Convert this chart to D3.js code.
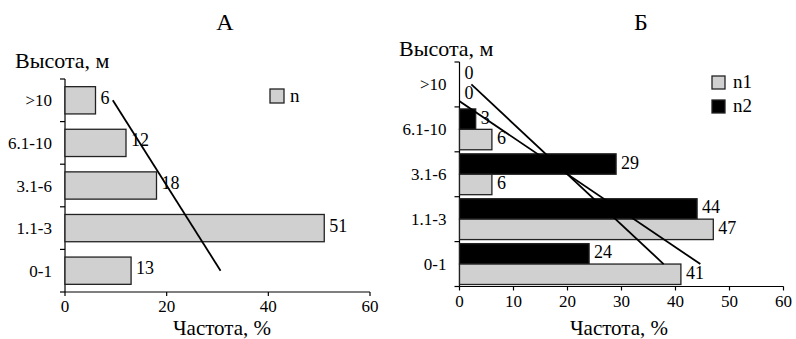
<!DOCTYPE html>
<html><head><meta charset="utf-8">
<script src="https://cdn.jsdelivr.net/npm/d3@7/dist/d3.min.js"></script>
<style>
body{margin:0;background:#fff;}
svg{display:block;}
</style></head>
<body><svg id="c" width="796" height="339"></svg>
<script>
// Data
const categories = [">10", "6.1-10", "3.1-6", "1.1-3", "0-1"]; // top to bottom
const valuesA_n = [6, 12, 18, 51, 13];
const valuesB_n1 = [0, 6, 6, 47, 41];
const valuesB_n2 = [0, 3, 29, 44, 24];
const xTicksA = [0, 20, 40, 60];
const xTicksB = [0, 10, 20, 30, 40, 50, 60];
const titleA = "А", titleB = "Б";
const yTitle = "Высота, м", xTitle = "Частота, %";

const svg = d3.select("#c");
const GRAY = "#d0d0d0", STROKE = "#222";
const FONT = "Liberation Serif";

function txt(g){ return g.append("text").attr("font-family",FONT).attr("fill","#000"); }

// linear regression over category index (1 = bottom category)
function trend(vals){
  const n = vals.length;
  const pts = vals.map((v,i)=>({x:n-i, y:v}));
  const mx = d3.mean(pts,d=>d.x), my = d3.mean(pts,d=>d.y);
  const b = d3.sum(pts,d=>(d.x-mx)*(d.y-my))/d3.sum(pts,d=>(d.x-mx)*(d.x-mx));
  const a = my - b*mx;
  return pts.map(p=>({cat: categories[n-p.x], v: a + b*p.x}));
}

function drawAxes(g, x, y, ticks, top, bottom, left, right){
  g.append("line").attr("x1",left).attr("x2",right).attr("y1",bottom).attr("y2",bottom).attr("stroke","#000").attr("stroke-width",1.2);
  ticks.forEach(t=>{
    g.append("line").attr("x1",x(t)).attr("x2",x(t)).attr("y1",bottom).attr("y2",bottom+4).attr("stroke","#000").attr("stroke-width",1.2);
    txt(g).attr("x",x(t)).attr("y",bottom+20).attr("text-anchor","middle").attr("font-size",17).text(t);
  });
  g.append("line").attr("x1",left).attr("x2",left).attr("y1",top).attr("y2",bottom).attr("stroke","#000").attr("stroke-width",1.2);
  const step = y.step();
  const bounds = categories.map(c=>y(c) - step*y.paddingInner()/2).concat([bottom]);
  bounds.forEach(b=>{
    g.append("line").attr("x1",left-5).attr("x2",left).attr("y1",b).attr("y2",b).attr("stroke","#000").attr("stroke-width",1.2);
  });
  categories.forEach(c=>{
    txt(g).attr("x",left-13).attr("y",y(c)+y.bandwidth()/2+6).attr("text-anchor","end").attr("font-size",17).text(c);
  });
}

// ---------- Chart A ----------
{
  const left=65, right=370, top=79, bottom=292;
  const x = d3.scaleLinear().domain([0,60]).range([left,right]);
  const y = d3.scaleBand().domain(categories).range([top,bottom]).paddingInner(0.36).paddingOuter(0.18);
  const g = svg.append("g");
  drawAxes(g,x,y,xTicksA,top,bottom,left,right);
  g.selectAll("rect.bar").data(valuesA_n).enter().append("rect")
    .attr("x",x(0)).attr("y",(d,i)=>y(categories[i]))
    .attr("width",d=>x(d)-x(0)).attr("height",y.bandwidth())
    .attr("fill",GRAY).attr("stroke",STROKE).attr("stroke-width",1.3);
  valuesA_n.forEach((d,i)=>{
    txt(g).attr("x",x(d)+5).attr("y",y(categories[i])+y.bandwidth()/2+3.5).attr("font-size",18).text(d);
  });
  const tr = trend(valuesA_n);
  const line = d3.line().x(d=>x(d.v)).y(d=>y(d.cat)+y.bandwidth()/2);
  g.append("path").attr("d",line([tr[0],tr[tr.length-1]])).attr("stroke","#000").attr("stroke-width",1.8).attr("fill","none");
  g.append("rect").attr("x",270).attr("y",89).attr("width",14).attr("height",14).attr("fill",GRAY).attr("stroke",STROKE).attr("stroke-width",1.3);
  txt(g).attr("x",290).attr("y",102).attr("font-size",19).text("n");
  txt(g).attr("x",225).attr("y",30).attr("text-anchor","middle").attr("font-size",24).text(titleA);
  txt(g).attr("x",15).attr("y",68).attr("font-size",22).text(yTitle);
  txt(g).attr("x",222).attr("y",335).attr("text-anchor","middle").attr("font-size",21).text(xTitle);
}

// ---------- Chart B ----------
{
  const left=459.5, right=783.5, top=62, bottom=286.5;
  const x = d3.scaleLinear().domain([0,60]).range([left,right]);
  const y = d3.scaleBand().domain(categories).range([top,bottom]).paddingInner(0.09).paddingOuter(0.045);
  const series = ["n2","n1"];
  const ys = d3.scaleBand().domain(series).range([0,y.bandwidth()]);
  const g = svg.append("g");
  drawAxes(g,x,y,xTicksB,top,bottom,left,right);
  const data = categories.map((c,i)=>({c, n1: valuesB_n1[i], n2: valuesB_n2[i]}));
  const colors = {n1: GRAY, n2: "#000"};
  series.forEach(s=>{
    g.selectAll("rect.b"+s).data(data).enter().append("rect")
      .attr("x",x(0)).attr("y",d=>y(d.c)+ys(s))
      .attr("width",d=>x(d[s])-x(0)).attr("height",ys.bandwidth())
      .attr("fill",colors[s]).attr("stroke",d=>d[s]>0?STROKE:"none").attr("stroke-width",1.3);
    data.forEach(d=>{
      txt(g).attr("x",x(d[s])+5).attr("y",y(d.c)+ys(s)+ys.bandwidth()/2+4.5).attr("font-size",18).text(d[s]);
    });
  });
  svg.append("clipPath").attr("id","clipB").append("rect").attr("x",left).attr("y",top).attr("width",right-left).attr("height",bottom-top);
  const line = d3.line().x(d=>x(d.v)).y(d=>y(d.cat)+y.bandwidth()/2);
  [valuesB_n1, valuesB_n2].forEach(vals=>{
    const tr = trend(vals);
    g.append("path").attr("clip-path","url(#clipB)").attr("d",line([tr[0],tr[tr.length-1]])).attr("stroke","#000").attr("stroke-width",1.8).attr("fill","none");
  });
  g.append("rect").attr("x",712).attr("y",76).attr("width",13).attr("height",13).attr("fill",GRAY).attr("stroke",STROKE).attr("stroke-width",1.3);
  txt(g).attr("x",733).attr("y",88).attr("font-size",19).text("n1");
  g.append("rect").attr("x",712).attr("y",100).attr("width",13).attr("height",13).attr("fill","#000").attr("stroke",STROKE).attr("stroke-width",1.3);
  txt(g).attr("x",733).attr("y",112).attr("font-size",19).text("n2");
  txt(g).attr("x",641).attr("y",30).attr("text-anchor","middle").attr("font-size",24).text(titleB);
  txt(g).attr("x",399).attr("y",56).attr("font-size",22).text(yTitle);
  txt(g).attr("x",619).attr("y",335).attr("text-anchor","middle").attr("font-size",21).text(xTitle);
}
</script></body></html>
